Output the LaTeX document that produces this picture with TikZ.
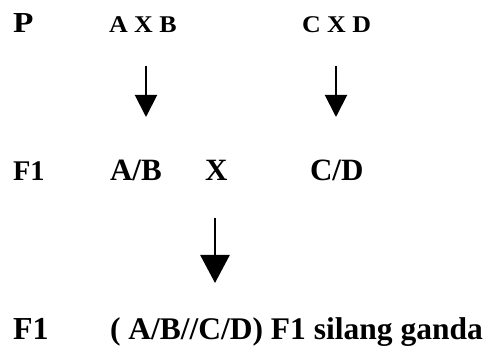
\documentclass[tikz,border=0pt]{standalone}
\usepackage{fontspec}
\setmainfont{Liberation Serif}
\usetikzlibrary{arrows.meta}
\tikzset{
  lbl/.style={anchor=base west, inner sep=0pt, outer sep=0pt, font=\bfseries},
  smallarrow/.style={line width=2pt, -{Triangle[length=22pt,width=22pt]}},
  bigarrow/.style={line width=2.6pt, -{Triangle[length=28pt,width=29pt]}}
}
\begin{document}
\begin{tikzpicture}[x=1pt,y=-1pt]
\useasboundingbox (0,0) rectangle (490,347);
% row 1
\node[lbl] (p) at (13,33) {\scalebox{1.15}[1]{\fontsize{29}{29}\selectfont P}};
\node[lbl] (axb) at (109,33) {\scalebox{1.08}[1]{\fontsize{24}{24}\selectfont A X B}};
\node[lbl] (cxd) at (302,33) {\scalebox{1.08}[1]{\fontsize{24}{24}\selectfont C X D}};
% arrows row 1
\coordinate (a1s) at (146,66);
\coordinate (a1e) at (146,117);
\coordinate (a2s) at (336,66);
\coordinate (a2e) at (336,117);
\draw[smallarrow] (a1s) -- (a1e);
\draw[smallarrow] (a2s) -- (a2e);
% row 2
\node[lbl] (f1a) at (13,181) {\fontsize{28.5}{28.5}\selectfont F1};
\node[lbl] (ab) at (110,181) {\fontsize{31}{31}\selectfont A/B};
\node[lbl] (x) at (205,181) {\fontsize{31}{31}\selectfont X};
\node[lbl] (cd) at (310,181) {\fontsize{31}{31}\selectfont C/D};
% big arrow
\coordinate (a3s) at (215,218);
\coordinate (a3e) at (215,283);
\draw[bigarrow] (a3s) -- (a3e);
% row 3
\node[lbl] (f1b) at (13,340) {\fontsize{32}{32}\selectfont F1};
\node[lbl] (res) at (110,340) {\fontsize{31.5}{31.5}\selectfont ( A/B//C/D) F1 silang ganda};
\end{tikzpicture}
\end{document}
